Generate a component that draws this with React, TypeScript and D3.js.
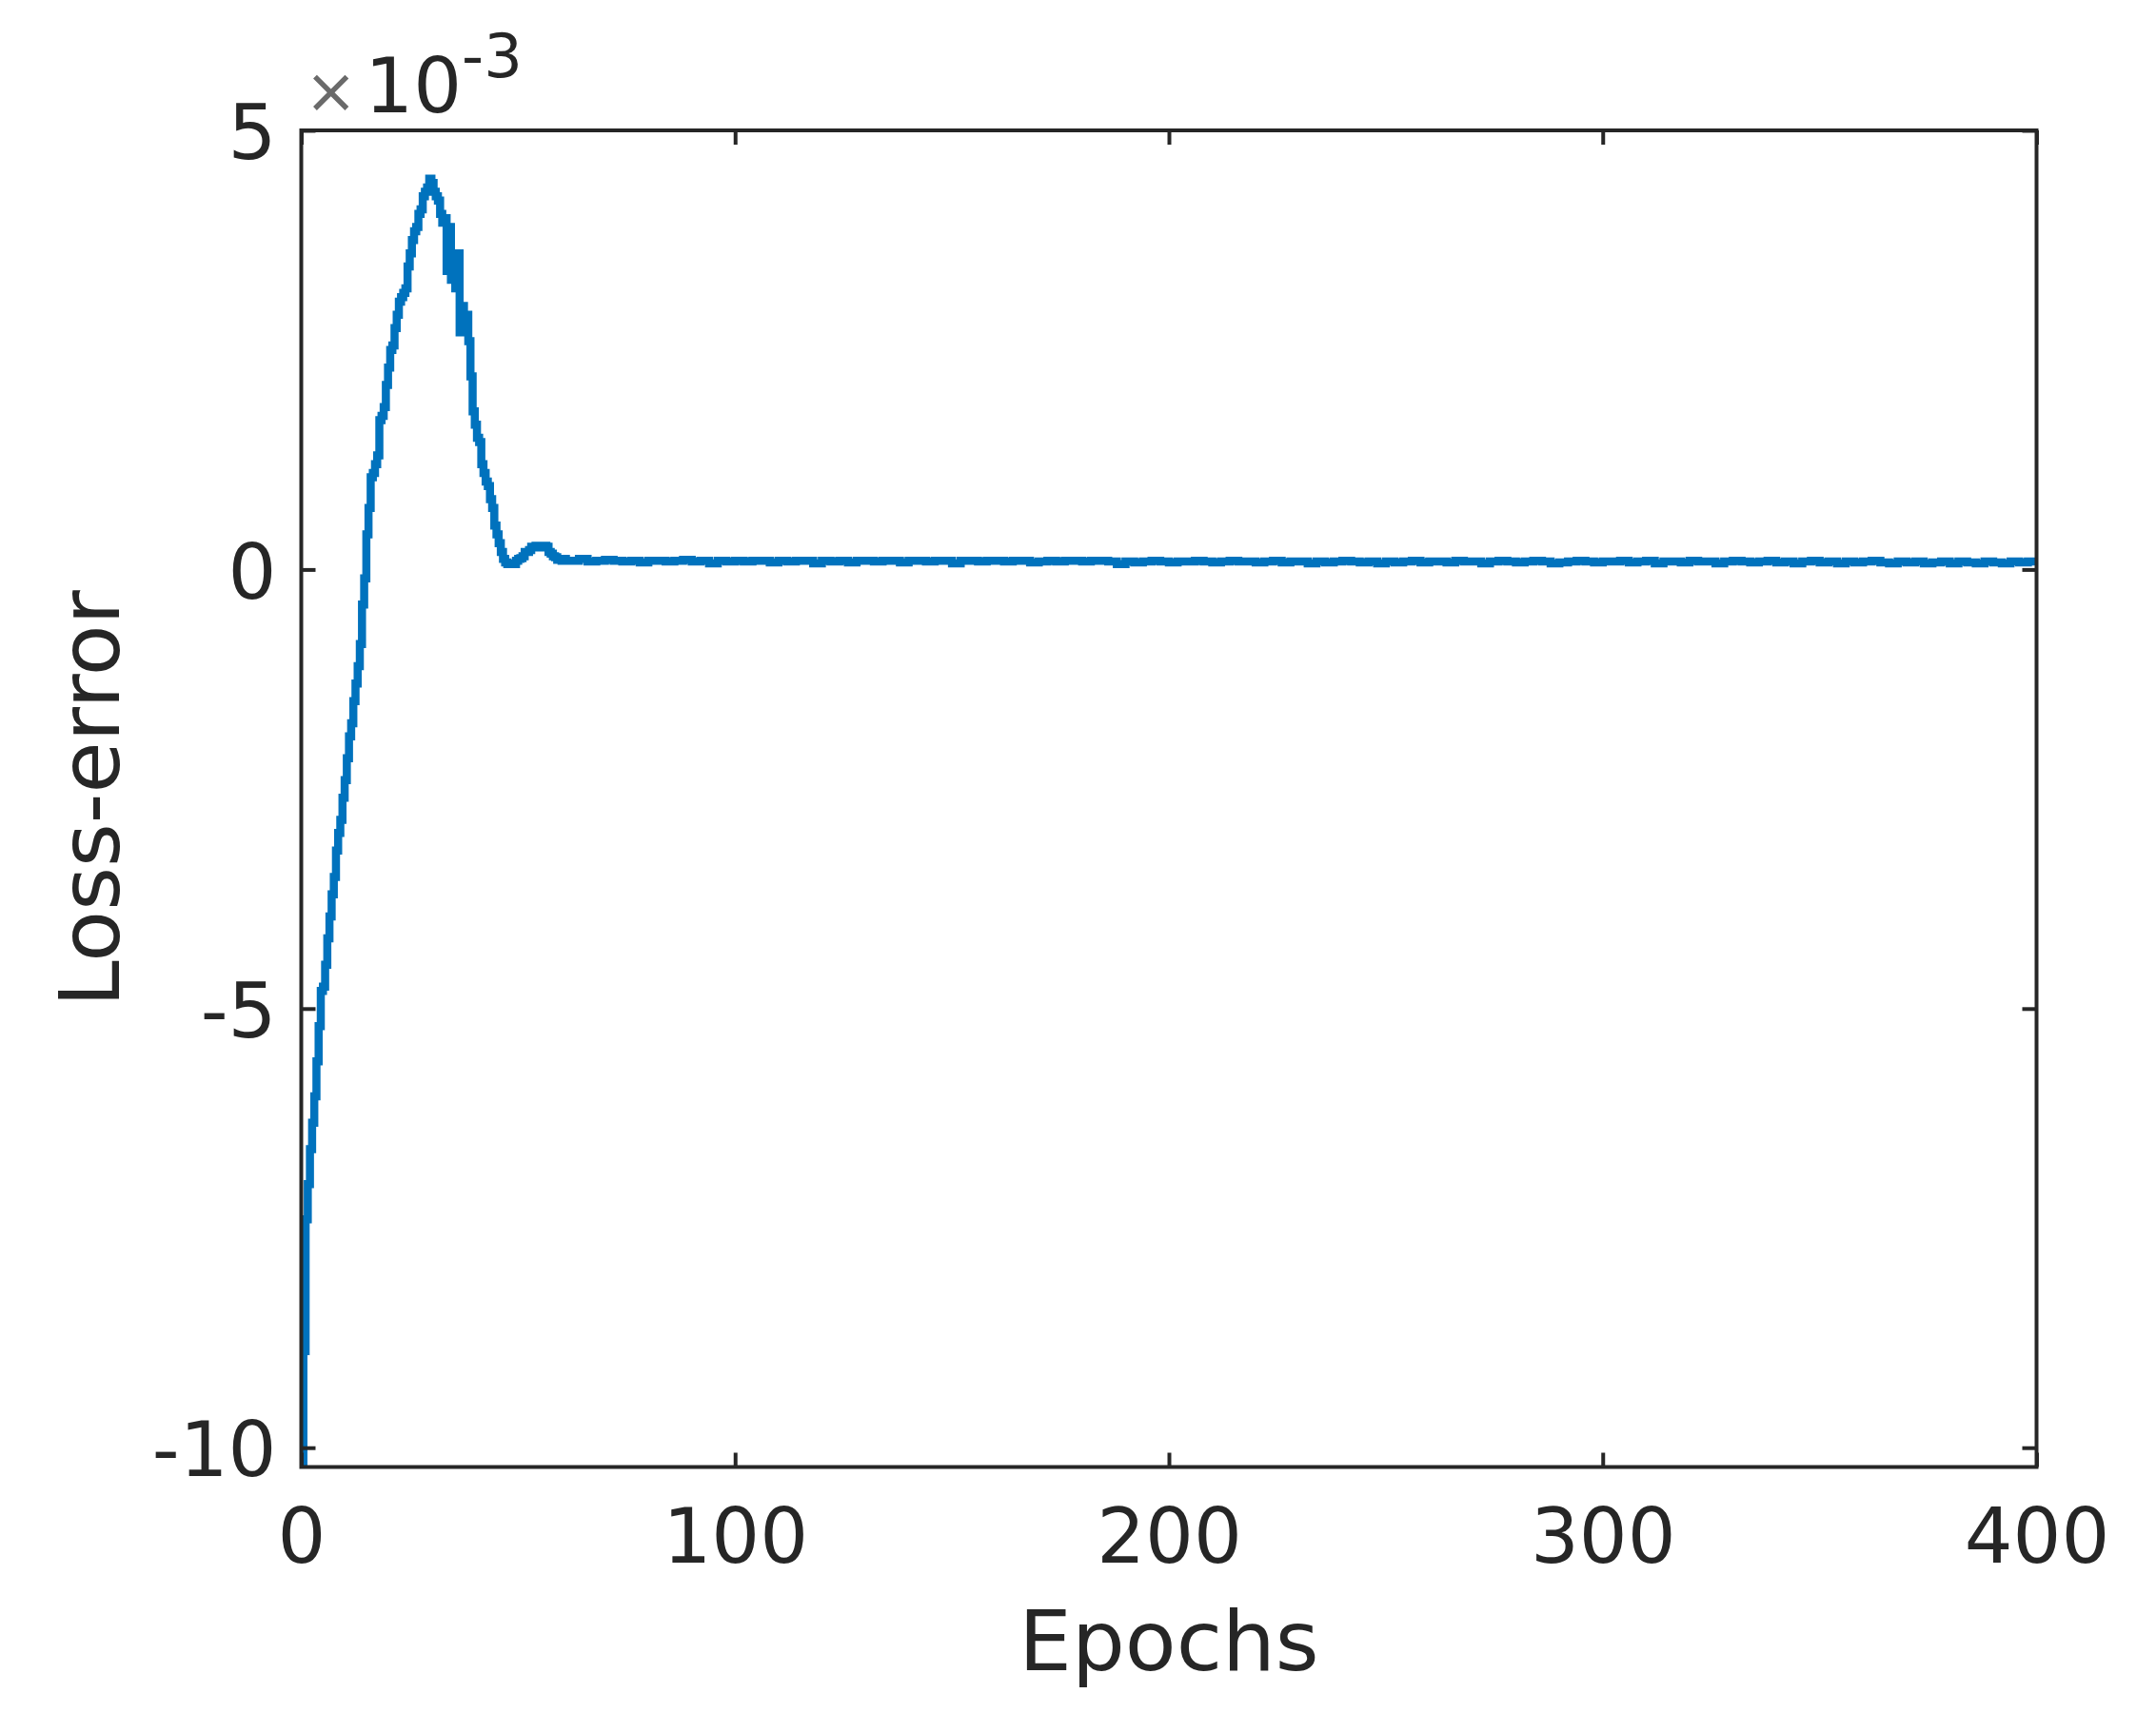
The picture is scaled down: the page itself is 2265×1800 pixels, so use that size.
import React, { useEffect, useRef } from 'react';
import * as d3 from 'd3';

// loss-error (x1e-3), sampled every half epoch for epochs 0 .. 61.5
const earlyLoss = [
  -10.2, -8.9, -7.4, -7.0, -6.6, -6.3, -6.0, -5.6, -5.2, -4.8,
  -4.75, -4.5, -4.2, -3.95, -3.7, -3.5, -3.2, -3.0, -2.85, -2.6,
  -2.4, -2.15, -1.9, -1.75, -1.5, -1.3, -1.1, -0.85, -0.4, -0.1,
  0.4, 0.7, 1.05, 1.1, 1.2, 1.3, 1.7, 1.75, 1.85, 2.1,
  2.3, 2.5, 2.55, 2.75, 2.9, 3.05, 3.1, 3.15, 3.2, 3.45,
  3.6, 3.75, 3.85, 3.9, 4.05, 4.1, 4.25, 4.3, 4.35, 4.45,
  4.4, 4.3, 4.25, 4.2, 4.05, 3.95, 4.0, 3.4, 3.9, 3.3,
  3.6, 3.2, 3.6, 2.7, 3.0, 2.7, 2.9, 2.6, 2.2, 1.8,
  1.65, 1.5, 1.45, 1.2, 1.1, 1.0, 0.95, 0.8, 0.7, 0.5,
  0.4, 0.3, 0.2, 0.12, 0.08, 0.06, 0.06, 0.07, 0.06, 0.1,
  0.12, 0.13, 0.15, 0.2, 0.2, 0.22, 0.26, 0.25, 0.27, 0.26,
  0.27, 0.25, 0.27, 0.26, 0.2, 0.18, 0.15, 0.14, 0.11, 0.12,
  0.1, 0.12, 0.1, 0.1,
];

// loss-error (x1e-3), every 2 epochs for epochs 62 .. 400
const lateLoss = [
  0.1, 0.12, 0.09, 0.1, 0.11, 0.1, 0.09, 0.1, 0.08, 0.1, 0.1, 0.09, 0.1, 0.11, 0.09, 0.1, 0.07, 0.1, 0.09, 0.1,
  0.09, 0.1, 0.1, 0.08, 0.1, 0.09, 0.1, 0.1, 0.07, 0.1, 0.09, 0.1, 0.08, 0.1, 0.1, 0.09, 0.1, 0.1, 0.08, 0.1,
  0.1, 0.09, 0.1, 0.1, 0.07, 0.1, 0.1, 0.09, 0.1, 0.1, 0.09, 0.1, 0.1, 0.08, 0.09, 0.1, 0.09, 0.1, 0.1, 0.09,
  0.1, 0.1, 0.09, 0.06, 0.09, 0.08, 0.09, 0.1, 0.09, 0.08, 0.09, 0.09, 0.1, 0.09, 0.08, 0.09, 0.1, 0.09, 0.09, 0.08,
  0.09, 0.1, 0.08, 0.09, 0.09, 0.07, 0.09, 0.08, 0.09, 0.1, 0.09, 0.08, 0.09, 0.07, 0.09, 0.08, 0.09, 0.1, 0.08, 0.09,
  0.09, 0.08, 0.1, 0.09, 0.09, 0.07, 0.09, 0.1, 0.09, 0.08, 0.09, 0.1, 0.09, 0.07, 0.08, 0.09, 0.1, 0.09, 0.08, 0.09,
  0.09, 0.1, 0.08, 0.09, 0.1, 0.07, 0.09, 0.09, 0.08, 0.1, 0.09, 0.09, 0.07, 0.09, 0.1, 0.09, 0.08, 0.09, 0.1, 0.08,
  0.09, 0.07, 0.09, 0.1, 0.08, 0.09, 0.07, 0.09, 0.08, 0.09, 0.1, 0.08, 0.07, 0.09, 0.08, 0.09, 0.07, 0.08, 0.09, 0.07,
  0.09, 0.08, 0.07, 0.09, 0.08, 0.07, 0.09, 0.08, 0.09, 0.08,
];

const xTicks = [0, 100, 200, 300, 400];
const yTicks = [-10, -5, 0, 5];

const App = () => {
  const ref = useRef<SVGSVGElement | null>(null);

  useEffect(() => {
    document.body.style.margin = '0';
    if (!ref.current) return;
    const width = 2265;
    const height = 1800;
    const left = 316.5, right = 2139.5, top = 137, bottom = 1541.5;
    const ink = '#262626';
    const font = '"DejaVu Sans", sans-serif';

    const svg = d3.select(ref.current);
    svg.selectAll('*').remove();
    svg.attr('width', width).attr('height', height);

    const x = d3.scaleLinear().domain([0, 400]).range([left, right]);
    const y = d3.scaleLinear().domain([-10.22, 5]).range([bottom, top]);

    const points = [
      ...earlyLoss.map((v, i) => ({ epoch: i * 0.5, v })),
      ...lateLoss.map((v, i) => ({ epoch: 62 + i * 2, v })),
    ];

    svg.append('rect').attr('width', width).attr('height', height).attr('fill', 'white');

    svg.append('clipPath').attr('id', 'plot-clip')
      .append('rect')
      .attr('x', left).attr('y', top)
      .attr('width', right - left).attr('height', bottom - top);

    // step curve gives the blocky, pixel-stair look of the dense original trace
    const line = d3.line<{ epoch: number; v: number }>()
      .curve(d3.curveStepAfter)
      .x(d => x(d.epoch))
      .y(d => y(d.v));

    svg.append('path')
      .datum(points)
      .attr('clip-path', 'url(#plot-clip)')
      .attr('d', line)
      .attr('fill', 'none')
      .attr('stroke', '#0072BD')
      .attr('stroke-width', 8.5)
      .attr('stroke-linejoin', 'miter');

    const tick = 15;
    const styleAxis = (g: any) => {
      g.select('.domain').remove();
      g.selectAll('line').attr('stroke', ink).attr('stroke-width', 4);
      g.selectAll('text').attr('fill', ink).attr('font-size', 80).attr('font-family', font);
      g.attr('font-size', null).attr('font-family', null);
    };
    const fmt = (d: any) => String(d).replace('\u2212', '-');

    svg.append('g')
      .attr('transform', `translate(0,${bottom})`)
      .call(d3.axisBottom(x).tickValues(xTicks).tickSizeInner(-tick).tickSizeOuter(0).tickPadding(44).tickFormat(fmt))
      .call(styleAxis);

    svg.append('g')
      .attr('transform', `translate(0,${top})`)
      .call(d3.axisTop(x).tickValues(xTicks).tickSizeInner(-tick).tickSizeOuter(0).tickFormat(() => ''))
      .call(styleAxis);

    svg.append('g')
      .attr('transform', `translate(${left},0)`)
      .call(d3.axisLeft(y).tickValues(yTicks).tickSizeInner(-tick).tickSizeOuter(0).tickPadding(26).tickFormat(fmt))
      .call(styleAxis)
      .selectAll('text').attr('dy', '0.37em');

    svg.append('g')
      .attr('transform', `translate(${right},0)`)
      .call(d3.axisRight(y).tickValues(yTicks).tickSizeInner(-tick).tickSizeOuter(0).tickFormat(() => ''))
      .call(styleAxis);

    // axes box
    svg.append('rect')
      .attr('x', left).attr('y', top)
      .attr('width', right - left).attr('height', bottom - top)
      .attr('fill', 'none').attr('stroke', ink).attr('stroke-width', 4);

    // exponent label
    const expo = svg.append('text')
      .attr('x', 320).attr('y', 118)
      .attr('font-family', font).attr('font-size', 80).attr('fill', ink);
    expo.append('tspan').text('\u00d7').attr('fill', '#6a6a6a').attr('font-size', 66);
    expo.append('tspan').text('10').attr('dx', 8);
    expo.append('tspan').text('-3').attr('font-size', 64).attr('dy', -37);

    svg.append('text')
      .attr('x', (left + right) / 2).attr('y', 1755)
      .attr('text-anchor', 'middle')
      .attr('font-family', font).attr('font-size', 88).attr('fill', ink)
      .text('Epochs');

    svg.append('text')
      .attr('transform', `translate(125,${(top + bottom) / 2}) rotate(-90)`)
      .attr('text-anchor', 'middle')
      .attr('font-family', font).attr('font-size', 88).attr('fill', ink)
      .text('Loss-error');
  }, []);

  return <svg ref={ref} style={{ display: 'block' }} />;
};

export default App;
